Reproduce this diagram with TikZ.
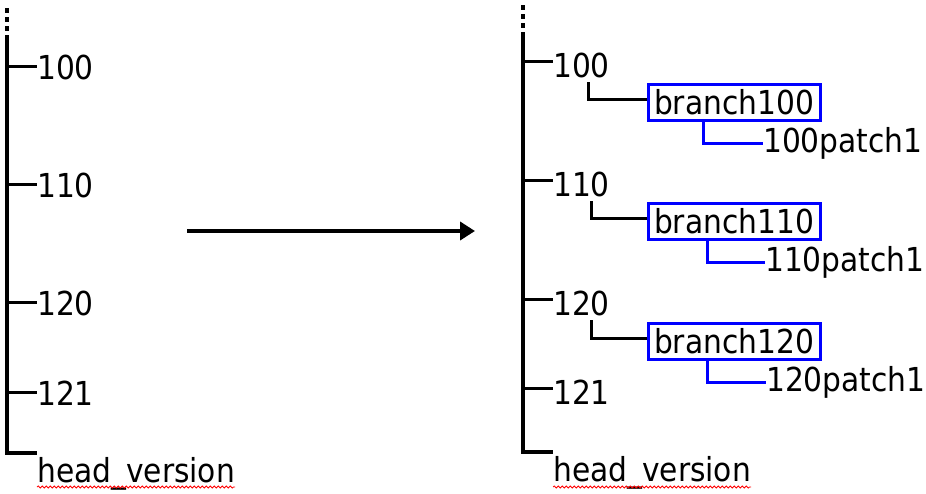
\documentclass[tikz,border=0pt]{standalone}
\usepackage{fontspec}
\setmainfont{DejaVu Sans Condensed}
\usetikzlibrary{arrows.meta,decorations.pathmorphing}
\begin{document}
\begin{tikzpicture}[x=1pt,y=-1pt,
  lbl/.style={inner sep=0pt,anchor=west,font=\fontsize{33}{40}\selectfont},
  trunk/.style={line width=3.5pt,black},
  trunkdash/.style={line width=3.5pt,black,dash pattern=on 5pt off 4pt},
  tick/.style={line width=3pt,black},
  brbox/.style={draw=blue,line width=3pt,minimum width=172pt,minimum height=36pt,inner sep=0pt,font=\fontsize{33}{40}\selectfont},
  blueline/.style={line width=3pt,blue},
  wavy/.style={red,line width=0.8pt,decorate,decoration={snake,amplitude=1pt,segment length=4pt}}]
\useasboundingbox (0,0) rectangle (926,493);

% ---------- left tree ----------
\coordinate (Ltop) at (7,8);
\coordinate (Lsol) at (7,39);
\coordinate (Lbot) at (7,453);
\coordinate (L100) at (7,66);
\coordinate (L110) at (7,184);
\coordinate (L120) at (7,302);
\coordinate (L121) at (7,392);
\node[lbl] (lt100) at (37,67) {100};
\node[lbl] (lt110) at (37,185) {110};
\node[lbl] (lt120) at (37,303) {120};
\node[lbl] (lt121) at (37,393) {121};
\node[lbl,anchor=base west] (lhv) at (37,482) {head\_version};
\draw[trunkdash] (Ltop) -- (Lsol);
\draw[trunk] (Lsol) -- (Lbot) -- (Lbot -| lhv.west);
\draw[tick] (L100) -- (L100 -| lt100.west);
\draw[tick] (L110) -- (L110 -| lt110.west);
\draw[tick] (L120) -- (L120 -| lt120.west);
\draw[tick] (L121) -- (L121 -| lt121.west);
\draw[wavy] ([yshift=-5pt]lhv.base west) -- ([yshift=-5pt]lhv.base east);

% ---------- arrow ----------
\coordinate (A1) at (187,231);
\coordinate (A2) at (475,231);
\draw[line width=4.5pt,-{Triangle[length=15pt,width=18pt]}] (A1) -- (A2);

% ---------- right tree ----------
\coordinate (Rtop) at (523,5);
\coordinate (Rsol) at (523,37);
\coordinate (Rbot) at (523,452);
\coordinate (R100) at (523,61);
\coordinate (R110) at (523,180);
\coordinate (R120) at (523,299);
\coordinate (R121) at (523,388);
\node[lbl] (rt100) at (553,65) {100};
\node[lbl] (rt110) at (553,184) {110};
\node[lbl] (rt120) at (553,303) {120};
\node[lbl] (rt121) at (553,392) {121};
\node[lbl,anchor=base west] (rhv) at (553,481) {head\_version};
\draw[trunkdash] (Rtop) -- (Rsol);
\draw[trunk] (Rsol) -- (Rbot) -- (Rbot -| rhv.west);
\draw[tick] (R100) -- (R100 -| rt100.west);
\draw[tick] (R110) -- (R110 -| rt110.west);
\draw[tick] (R120) -- (R120 -| rt120.west);
\draw[tick] (R121) -- (R121 -| rt121.west);
\draw[wavy] ([yshift=-6pt]rhv.base west) -- ([yshift=-6pt]rhv.base east);

% branches
\node[brbox] (b100) at (734,102) {branch100};
\node[brbox] (b110) at (734,221) {branch110};
\node[brbox] (b120) at (734,341) {branch120};
\node[lbl] (p100) at (763,143) {100patch1};
\node[lbl] (p110) at (765,262) {110patch1};
\node[lbl] (p120) at (766,382) {120patch1};
\coordinate (s100) at (588,82);
\coordinate (s110) at (591,201);
\coordinate (s120) at (591,320);
\draw[tick] (s100) |- ([yshift=3pt]b100.west);
\draw[tick] (s110) |- ([yshift=3pt]b110.west);
\draw[tick] (s120) |- ([yshift=3pt]b120.west);
\draw[blueline] ([xshift=-31pt]b100.south) |- (p100.west);
\draw[blueline] ([xshift=-27pt]b110.south) |- (p110.west);
\draw[blueline] ([xshift=-27pt]b120.south) |- (p120.west);
\end{tikzpicture}
\end{document}
